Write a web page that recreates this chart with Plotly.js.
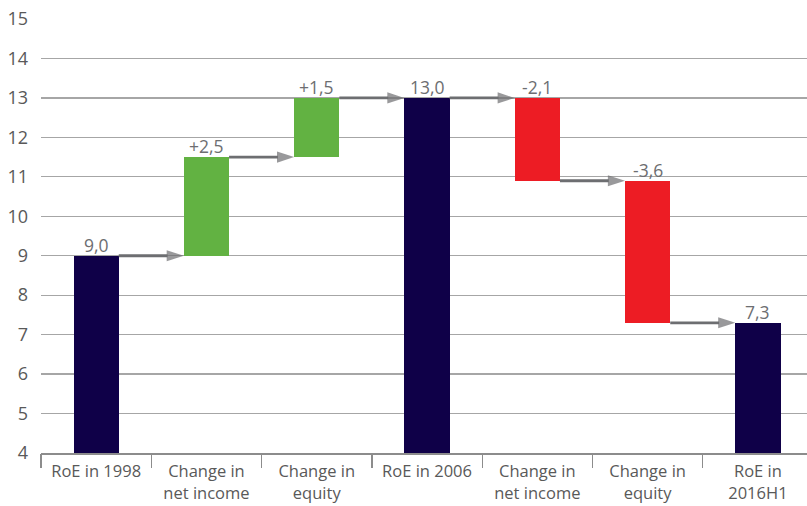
<!DOCTYPE html>
<html>
<head>
<meta charset="utf-8">
<script src="https://cdn.plot.ly/plotly-3.0.1.min.js"></script>
<style>html,body{margin:0;padding:0;background:#fff;}#chart{width:807px;height:506px;}</style>
</head>
<body>
<div id="chart"></div>
<script>
const categories = ['RoE in 1998', 'Change in<br>net income', 'Change in<br>equity', 'RoE in 2006', 'Change in<br>net income', 'Change in<br>equity', 'RoE in<br>2016H1'];
const values = [9.0, 2.5, 1.5, 13.0, -2.1, -3.6, 7.3];
const kinds = ['total', 'delta', 'delta', 'total', 'delta', 'delta', 'total'];
const yTicks = [4, 5, 6, 7, 8, 9, 10, 11, 12, 13, 14, 15];

const COL_TOTAL = '#0f0048', COL_UP = '#62b242', COL_DOWN = '#ed1c24';
const ARROW = '#6d6e71', TXT = '#6d6e71';
const BW = 0.41;

const xs = categories.map((c, i) => i);
const bases = [], heights = [], colors = [], levels = [], labels = [], tops = [];
let running = 0;
values.forEach((v, i) => {
  if (kinds[i] === 'total') {
    bases.push(0); heights.push(v); colors.push(COL_TOTAL);
    running = v;
    labels.push(v.toFixed(1).replace('.', ','));
  } else {
    bases.push(running); heights.push(v); colors.push(v >= 0 ? COL_UP : COL_DOWN);
    labels.push((v >= 0 ? '+' : '-') + Math.abs(v).toFixed(1).replace('.', ','));
    running = running + v;
  }
  levels.push(running);
  tops.push(Math.max(bases[i], bases[i] + heights[i]));
});

const traces = [{
  type: 'bar', x: xs, y: heights, base: bases, width: BW,
  marker: {color: colors, line: {width: 0}}, hoverinfo: 'skip', showlegend: false
}];
for (let i = 0; i < xs.length - 1; i++) {
  traces.push({
    type: 'scatter', mode: 'lines+markers',
    x: [xs[i] + BW / 2, xs[i + 1] - BW / 2], y: [levels[i], levels[i]],
    line: {color: ARROW, width: 2.8},
    marker: {symbol: 'arrow', angleref: 'previous', size: [0, 18], color: ARROW, line: {width: 0}},
    hoverinfo: 'skip', showlegend: false, cliponaxis: false
  });
}

const annotations = labels.map((t, i) => ({
  x: xs[i], y: tops[i], xref: 'x', yref: 'y', text: t, showarrow: false,
  yanchor: 'bottom', yshift: -3, font: {family: 'Open Sans', size: 17.5, color: TXT}
}));

const layout = {
  width: 807, height: 506,
  margin: {l: 41, r: 0, t: 19, b: 53},
  paper_bgcolor: '#fff', plot_bgcolor: '#fff',
  font: {family: 'Open Sans', color: '#595959'},
  bargap: 0,
  xaxis: {
    type: 'linear', range: [-0.5, 6.445], tickvals: xs, ticktext: categories,
    ticks: '', showgrid: false, zeroline: false, showline: true, linecolor: '#8c8c8c', linewidth: 1.5,
    tickfont: {family: 'Open Sans', size: 16.5, color: '#595959'}, ticklabelstandoff: 3, fixedrange: true
  },
  xaxis2: {
    overlaying: 'x', anchor: 'y', side: 'bottom', matches: 'x',
    tickvals: xs.slice(0, -1).map(v => v - 0.5).concat([xs[xs.length - 1] - 0.5]),
    ticks: 'outside', ticklen: 14, tickwidth: 1.3, tickcolor: '#8c8c8c',
    showticklabels: false, showgrid: false, zeroline: false, showline: false
  },
  yaxis: {
    range: [4, 15], tickvals: yTicks, showgrid: true, gridcolor: '#a6a6a6', gridwidth: 1.3,
    zeroline: false, showline: false, ticks: '',
    tickfont: {family: 'Open Sans', size: 18, color: '#595959'}, ticklabelstandoff: 12, fixedrange: true
  },
  annotations: annotations,
  showlegend: false
};
traces.push({type: 'scatter', x: [xs[0]], y: [4], xaxis: 'x2', mode: 'markers', marker: {opacity: 0}, hoverinfo: 'skip', showlegend: false});

Plotly.newPlot('chart', traces, layout, {displayModeBar: false, staticPlot: true});
</script>
</body>
</html>
